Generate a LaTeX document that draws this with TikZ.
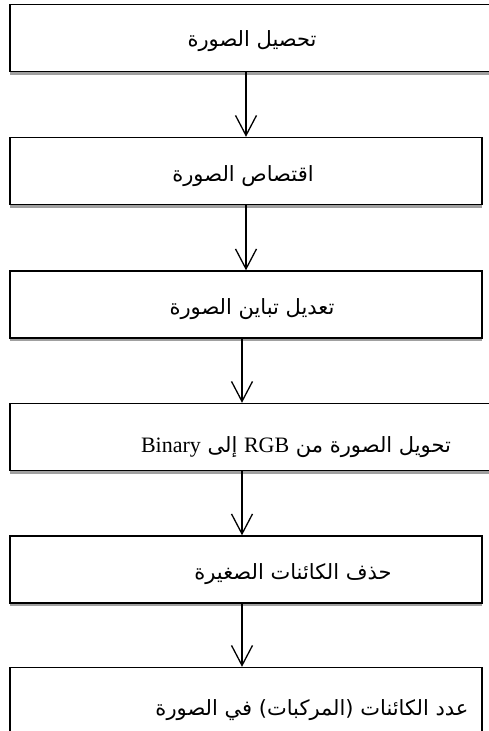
\documentclass[tikz,border=0pt]{standalone}
\usepackage{fontspec}
\usetikzlibrary{arrows.meta,shadows}
\TeXXeTstate=1
\newfontfamily\arabicfont[Script=Arabic]{DejaVu Sans}
\newfontfamily\latinfont{Liberation Serif}
\newcommand{\ar}[1]{{\arabicfont\beginR #1\endR}}
\newcommand{\lt}[1]{\beginL{\latinfont\fontsize{22}{26}\selectfont #1}\endL}

\tikzset{
  stepbox/.style={draw, line width=1.4pt, fill=white, inner sep=0pt,
    minimum width=472pt, minimum height=67pt,
    drop shadow={shadow xshift=0pt, shadow yshift=-3pt, opacity=.75}},
  widebox/.style={stepbox, minimum width=492pt},
  steptext/.style={anchor=base, inner sep=0pt, font=\fontsize{21}{26}\selectfont}
}

\begin{document}
\begin{tikzpicture}[x=1pt,y=-1pt,>={Straight Barb[length=20pt,width=21pt]}]
\useasboundingbox (0,0) rectangle (488,731);

\node[widebox] (b1) at (256,38) {};
\node[stepbox] (b2) at (246,171) {};
\node[stepbox] (b3) at (246,304.5) {};
\node[widebox] (b4) at (256,437) {};
\node[stepbox] (b5) at (246,569.5) {};
\node[stepbox] (b6) at (246,701) {};

\node[steptext] (t1) at (252,46) {\ar{تحصيل الصورة}};
\node[steptext] (t2) at (243,181) {\ar{اقتصاص الصورة}};
\node[steptext] (t3) at (252,314) {\ar{تعديل تباين الصورة}};
\node[steptext] (t4) at (296,452) {\ar{تحويل الصورة من \lt{RGB} إلى \lt{Binary}}};
\node[steptext] (t5) at (293,579) {\ar{حذف الكائنات الصغيرة}};
\node[steptext] (t6) at (312,715) {\ar{عدد الكائنات (المركبات) في الصورة}};

\foreach \a/\b/\s in {b1/b2/0, b2/b3/0, b3/b4/-4, b4/b5/-4, b5/b6/-4}
{
    \draw[->, line width=1.3pt] ([xshift=\s pt]b2.north |- \a.south) -- ([xshift=\s pt]b2.north |- \b.north);
}
\end{tikzpicture}
\end{document}
